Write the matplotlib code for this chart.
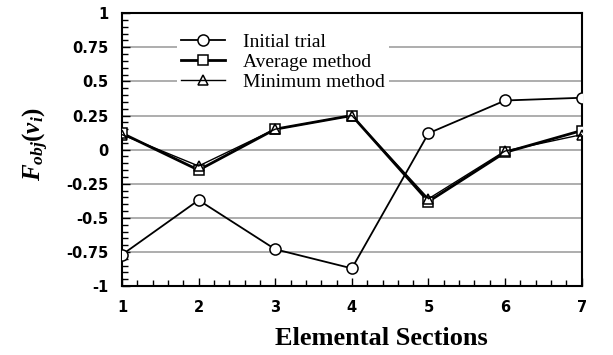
import numpy as np
import matplotlib
matplotlib.use("Agg")
from matplotlib import pyplot as plt
from matplotlib.ticker import MultipleLocator

plt.rcParams['mathtext.fontset'] = 'custom'
plt.rcParams['mathtext.rm'] = 'Liberation Serif:bold'
plt.rcParams['mathtext.it'] = 'Liberation Serif:italic:bold'

# data
sections = [1, 2, 3, 4, 5, 6, 7]
initial_trial = [-0.77, -0.37, -0.73, -0.87, 0.12, 0.36, 0.38]
average_method = [0.12, -0.15, 0.15, 0.25, -0.38, -0.02, 0.14]
minimum_method = [0.11, -0.12, 0.15, 0.25, -0.36, -0.01, 0.11]
yticks = [-1, -0.75, -0.5, -0.25, 0, 0.25, 0.5, 0.75, 1]
ytick_labels = ['-1', '-0.75', '-0.5', '-0.25', '0', '0.25', '0.5', '0.75', '1']

fig = plt.figure(figsize=(6.13, 3.55), dpi=100)
ax = fig.add_axes([0.199, 0.194, 0.75, 0.769])

for yv in yticks[1:-1]:
    ax.axhline(yv, color='#a0a0a0', lw=1.2, zorder=0)

ax.plot(sections, initial_trial, color='black', lw=1.3, marker='o', ms=8,
        mfc='white', mec='black', mew=1.1, label='Initial trial', zorder=3)
ax.plot(sections, average_method, color='black', lw=2.0, marker='s', ms=7,
        mfc='white', mec='black', mew=1.1, label='Average method', zorder=3)
ax.plot(sections, minimum_method, color='black', lw=1.0, marker='^', ms=7,
        mfc='none', mec='black', mew=1.1, label='Minimum method', zorder=4)

ax.set_xlim(1, 7)
ax.set_ylim(-1, 1)
ax.set_xticks(sections)
ax.set_yticks(yticks)
ax.set_yticklabels(ytick_labels)
ax.xaxis.set_minor_locator(MultipleLocator(0.2))
ax.yaxis.set_minor_locator(MultipleLocator(0.05))
ax.tick_params(which='both', direction='in', top=False, right=False, width=1)
ax.tick_params(which='major', length=6, pad=10)
ax.tick_params(which='minor', length=4)
for lab in ax.get_xticklabels() + ax.get_yticklabels():
    lab.set_fontweight('bold')
    lab.set_fontsize(10.5)
    lab.set_family('DejaVu Sans')
for sp in ax.spines.values():
    sp.set_linewidth(1.5)

ax.set_xlabel('Elemental Sections', family='Liberation Serif', fontweight='bold',
              fontsize=19)
ax.xaxis.set_label_coords(0.565, -0.15)
ax.set_ylabel(r'$F_{obj}(v_i)$', fontsize=18)
ax.yaxis.set_label_coords(-0.155, 0.52)

leg = ax.legend(loc='upper left', bbox_to_anchor=(0.098, 0.975), frameon=True,
                prop={'family': 'Liberation Serif', 'size': 14},
                handlelength=2.3, handletextpad=0.9, labelspacing=0.12,
                borderpad=0.2, fancybox=False)
leg.get_frame().set_edgecolor('none')
leg.get_frame().set_facecolor('white')
leg.get_frame().set_alpha(1)

plt.savefig('out.png', dpi=100)
